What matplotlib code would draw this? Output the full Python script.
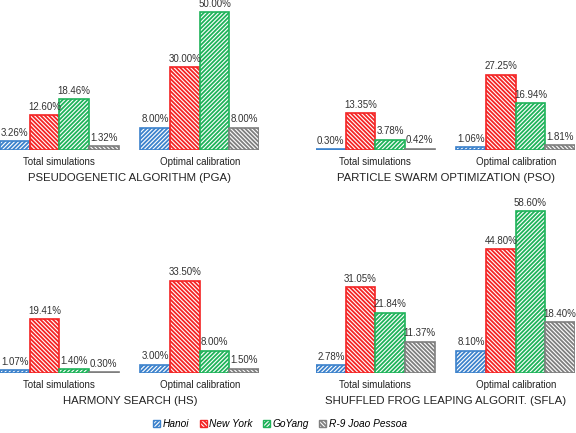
import numpy as np
import matplotlib.pyplot as plt

plt.rcParams['font.family'] = ['Liberation Sans', 'DejaVu Sans']
plt.rcParams['hatch.linewidth'] = 1.3

groups = ["Total simulations", "Optimal calibration"]
networks = ["Hanoi", "New York", "GoYang", "R-9 Joao Pessoa"]
colors = ["#3c82cc", "#f42424", "#1fb35a", "#7f7f7f"]
hatches = ["////////", "\\\\\\\\\\\\\\\\", "////////", "\\\\\\\\\\\\\\\\"]

titles = ["PSEUDOGENETIC ALGORITHM (PGA)", "PARTICLE SWARM OPTIMIZATION (PSO)",
          "HARMONY SEARCH (HS)", "SHUFFLED FROG LEAPING ALGORIT. (SFLA)"]

# values in %, [network][group]
pga = [[3.26, 8.00], [12.60, 30.00], [18.46, 50.00], [1.32, 8.00]]
pso = [[0.30, 1.06], [13.35, 27.25], [3.78, 16.94], [0.42, 1.81]]
hs = [[1.07, 3.00], [19.41, 33.50], [1.40, 8.00], [0.30, 1.50]]
sfla = [[2.78, 8.10], [31.05, 44.80], [21.84, 58.60], [11.37, 18.40]]
panels = [pga, pso, hs, sfla]

W, H = 576, 433
fig = plt.figure(figsize=(W / 100, H / 100), dpi=100)

px_per_pct = 2.76
bar_w = 0.211
x0 = -2 * bar_w
x1 = 1 + 2 * bar_w
axw = 259

# (left px, baseline px) for each panel
pos = [(0, 150), (316, 150), (0, 373), (316, 373)]

for data, title, (lx, by) in zip(panels, titles, pos):
    ymax = 54 if by == 150 else 60
    axh = ymax * px_per_pct
    ax = fig.add_axes([lx / W, (H - by) / H, axw / W, axh / H])
    ax.set_xlim(x0, x1)
    ax.set_ylim(0, ymax)
    x = np.arange(len(groups))
    for i, (vals, c, h) in enumerate(zip(data, colors, hatches)):
        xs = x + (i - 1.5) * bar_w
        ax.bar(xs, vals, bar_w, color="white", edgecolor=c, hatch=h, linewidth=0)
        ax.bar(xs, vals, bar_w, fill=False, edgecolor=c, linewidth=1.2)
        for xv, v in zip(xs, vals):
            ax.annotate(f"{v:.2f}%", (xv, v), xytext=(0, 2.5), textcoords="offset points",
                        ha="center", va="bottom", fontsize=7, color="#333333",
                        annotation_clip=False)
    ax.set_xticks(x)
    ax.set_xticklabels(groups, fontsize=7, color="#222222")
    ax.tick_params(axis="x", length=0, pad=5)
    ax.set_yticks([])
    for s in ax.spines.values():
        s.set_visible(False)
    ax.patch.set_alpha(0)
    fig.text((lx + 130) / W, 1 - (by + 28) / H, title, ha="center", va="center",
             fontsize=8.2, color="#222222")

handles = [plt.Rectangle((0, 0), 1, 1, facecolor="white", edgecolor=c, hatch=h, linewidth=1)
           for c, h in zip(colors, hatches)]
leg = fig.legend(handles, networks, loc="center", bbox_to_anchor=(280 / W, 1 - 424 / H),
                 ncol=4, frameon=False, handlelength=0.7, handleheight=0.7,
                 handletextpad=0.25, columnspacing=1.0,
                 prop={"style": "italic", "size": 7.3})

fig.savefig("out.png", dpi=100)
